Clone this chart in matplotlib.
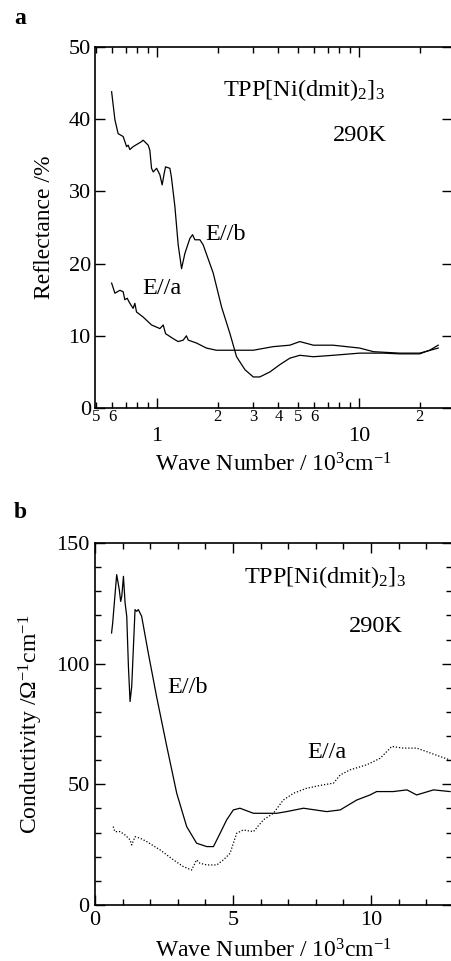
import matplotlib
matplotlib.use("Agg")
import matplotlib.pyplot as plt
from matplotlib.ticker import FixedLocator, FixedFormatter, MultipleLocator

plt.rcParams['font.family'] = ['Liberation Serif', 'DejaVu Serif']
plt.rcParams['mathtext.fontset'] = 'custom'
plt.rcParams['mathtext.rm'] = 'Liberation Serif'
plt.rcParams['mathtext.it'] = 'Liberation Serif:italic'

# ---- Panel a: reflectance (log wave number, 10^3 cm^-1) ----
refl_b_x = [0.597, 0.62, 0.643, 0.681, 0.708, 0.721, 0.735, 0.763, 0.84, 0.855, 0.906, 0.923,
            0.941, 0.959, 0.997, 1.035, 1.062, 1.087, 1.104, 1.16, 1.18, 1.228, 1.275, 1.325,
            1.376, 1.457, 1.502, 1.542, 1.633, 1.695, 1.9, 2.09, 2.3, 2.48, 2.73, 3.0, 3.23,
            3.63, 4.06, 4.55, 5.1, 5.95, 7.45, 10.1, 13.2, 15.9, 20.0, 22.4, 24.7]
refl_b_y = [43.8, 39.9, 38.0, 37.6, 36.2, 36.4, 35.8, 36.2, 36.9, 37.1, 36.4, 35.7,
            33.2, 32.7, 33.2, 32.3, 30.9, 32.5, 33.4, 33.2, 32.0, 27.9, 22.6, 19.3,
            21.4, 23.5, 24.0, 23.3, 23.3, 22.6, 18.7, 14.0, 10.3, 7.1, 5.3, 4.3, 4.3,
            5.0, 6.0, 6.9, 7.3, 7.1, 7.3, 7.6, 7.6, 7.5, 7.5, 8.0, 8.7]
refl_a_x = [0.597, 0.62, 0.656, 0.681, 0.694, 0.713, 0.735, 0.763, 0.778, 0.793, 0.855, 0.941,
            1.035, 1.075, 1.104, 1.205, 1.275, 1.35, 1.4, 1.43, 1.57, 1.76, 1.97, 2.39, 3.0,
            3.77, 4.55, 5.1, 5.95, 7.45, 10.1, 11.8, 15.9, 20.0, 24.7]
refl_a_y = [17.3, 15.9, 16.3, 16.1, 15.0, 15.2, 14.5, 13.8, 14.5, 13.3, 12.6, 11.5,
            11.0, 11.5, 10.3, 9.6, 9.2, 9.4, 10.0, 9.4, 9.0, 8.3, 8.0, 8.0, 8.0,
            8.5, 8.7, 9.2, 8.7, 8.7, 8.3, 7.8, 7.6, 7.6, 8.3]

a_major_ticks = [1, 10]
a_major_labels = ['1', '10']
a_minor_ticks = [0.5, 0.6, 0.7, 0.8, 0.9, 2, 3, 4, 5, 6, 7, 8, 9, 20]
a_minor_labels = ['5', '6', '', '', '', '2', '3', '4', '5', '6', '', '', '', '2']

# ---- Panel b: conductivity (linear wave number) ----
cond_b_x = [0.60, 0.64, 0.785, 0.88, 0.93, 0.97, 1.03, 1.09, 1.15, 1.21, 1.27, 1.33, 1.45,
            1.51, 1.57, 1.69, 1.93, 2.23, 2.60, 2.96, 3.32, 3.68, 4.05, 4.29, 4.53, 4.77,
            5.01, 5.25, 5.74, 6.10, 6.58, 6.94, 7.55, 8.39, 8.88, 9.48, 9.96, 10.2, 10.8,
            11.3, 11.65, 12.26, 12.86]
cond_b_y = [112.7, 116.8, 136.9, 130.6, 125.8, 127.9, 136.2, 125.1, 119.6, 98.9, 84.3, 90.6,
            122.4, 121.7, 122.4, 119.6, 104.4, 86.4, 65.7, 46.3, 32.5, 25.6, 24.2, 24.2,
            29.7, 35.3, 39.4, 40.1, 38.0, 38.0, 38.0, 38.7, 40.1, 38.7, 39.4, 43.5, 45.6,
            47.0, 47.0, 47.7, 45.6, 47.7, 47.0]
cond_a_x = [0.66, 0.72, 0.91, 1.09, 1.27, 1.33, 1.45, 1.63, 1.87, 2.36, 2.84, 3.2, 3.50,
            3.68, 3.80, 4.05, 4.41, 4.65, 4.89, 5.13, 5.37, 5.74, 6.10, 6.46, 6.82, 7.19,
            7.67, 8.27, 8.64, 8.88, 9.24, 9.84, 10.33, 10.75, 11.17, 11.65, 12.0, 12.5, 12.86]
cond_a_y = [32.5, 30.4, 30.4, 29.0, 27.0, 24.9, 28.3, 27.7, 26.3, 22.8, 18.7, 15.9, 14.5,
            18.7, 17.3, 16.6, 16.6, 18.7, 21.4, 29.7, 31.1, 30.4, 35.3, 38.0, 43.5, 46.3,
            48.4, 49.8, 50.5, 53.9, 56.0, 58.1, 60.8, 65.7, 65.0, 65.0, 63.6, 61.5, 60.1]

W, H = 451, 961
fig = plt.figure(figsize=(W / 100, H / 100), dpi=100)

def rect(l, t, r, b):
    return [l / W, 1 - b / H, (r - l) / W, (b - t) / H]

TXT = 17.5
LAB = 17
TCK = 16

# Panel a
ax1 = fig.add_axes(rect(95, 47, 452, 408))
ax1.plot(refl_b_x, refl_b_y, color='black', lw=0.9)
ax1.plot(refl_a_x, refl_a_y, color='black', lw=0.9)
ax1.set_xscale('log')
ax1.set_xlim(0.494, 28.9)
ax1.set_ylim(0, 50)
ax1.xaxis.set_major_locator(FixedLocator(a_major_ticks))
ax1.xaxis.set_major_formatter(FixedFormatter(a_major_labels))
ax1.xaxis.set_minor_locator(FixedLocator(a_minor_ticks))
ax1.xaxis.set_minor_formatter(FixedFormatter(a_minor_labels))
ax1.yaxis.set_major_locator(MultipleLocator(10))
ax1.tick_params(which='both', direction='in', top=True, right=True)
ax1.tick_params(which='major', length=7, width=1)
ax1.tick_params(which='minor', length=4, width=1)
ax1.tick_params(axis='x', which='major', labelsize=TCK, pad=14)
ax1.tick_params(axis='x', which='minor', labelsize=12, pad=1)
ax1.tick_params(axis='y', labelsize=TCK, pad=3)
ax1.set_ylabel('Reflectance /%', fontsize=LAB, labelpad=10)
ax1.set_xlabel('Wave Number / 10$^3$cm$^{-1}$', fontsize=LAB, labelpad=5)
ax1.text(0.358, 0.88, 'TPP[Ni(dmit)$_2$]$_3$', transform=ax1.transAxes, fontsize=TXT, va='center')
ax1.text(0.665, 0.755, '290K', transform=ax1.transAxes, fontsize=TXT, va='center')
ax1.text(1.74, 24, 'E//b', fontsize=TXT, va='center')
ax1.text(0.85, 16.6, 'E//a', fontsize=TXT, va='center')
for s in ax1.spines.values():
    s.set_linewidth(1.2)
fig.text(14 / W, 1 - 18 / H, 'a', fontsize=17, fontweight='bold', va='center')

# Panel b
ax2 = fig.add_axes(rect(95, 543, 452, 905))
ax2.plot(cond_b_x, cond_b_y, color='black', lw=0.9)
ax2.plot(cond_a_x, cond_a_y, color='black', lw=0.9, linestyle=(0, (1, 1.5)))
ax2.set_xlim(0, 12.93)
ax2.set_ylim(0, 150)
ax2.xaxis.set_major_locator(MultipleLocator(5))
ax2.xaxis.set_minor_locator(MultipleLocator(1))
ax2.yaxis.set_major_locator(MultipleLocator(50))
ax2.yaxis.set_minor_locator(MultipleLocator(10))
ax2.tick_params(which='both', direction='in', top=True, right=True)
ax2.tick_params(which='major', length=7, width=1, labelsize=TCK)
ax2.tick_params(which='minor', length=4, width=1)
ax2.tick_params(axis='x', pad=4)
ax2.tick_params(axis='y', pad=4)
ax2.set_ylabel('Conductivity /Ω$^{-1}$cm$^{-1}$', fontsize=LAB, labelpad=8)
ax2.set_xlabel('Wave Number / 10$^3$cm$^{-1}$', fontsize=LAB, labelpad=7)
ax2.text(0.418, 0.905, 'TPP[Ni(dmit)$_2$]$_3$', transform=ax2.transAxes, fontsize=TXT, va='center')
ax2.text(0.71, 0.77, '290K', transform=ax2.transAxes, fontsize=TXT, va='center')
ax2.text(2.6, 90, 'E//b', fontsize=TXT, va='center')
ax2.text(7.7, 63, 'E//a', fontsize=TXT, va='center')
for s in ax2.spines.values():
    s.set_linewidth(1.2)
fig.text(14 / W, 1 - 513 / H, 'b', fontsize=17, fontweight='bold', va='center')

fig.savefig('out.png', dpi=100)
